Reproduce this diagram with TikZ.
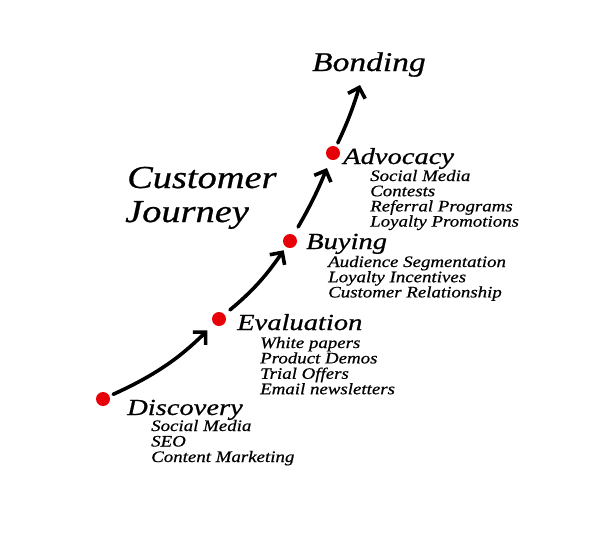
\documentclass[tikz,border=0pt]{standalone}
\usepackage{fontspec}
\newfontfamily\handA{Liberation Serif}[FakeStretch=1.2, FakeBold=0.7]
\newfontfamily\handB{Liberation Serif}[FakeStretch=1.24, FakeBold=0.7]
\newfontfamily\handC{Liberation Serif}[FakeStretch=1.18, FakeBold=0.6]
\usetikzlibrary{arrows.meta}
\definecolor{dotred}{RGB}{232,0,8}
\tikzset{
  dot/.style={circle, fill=dotred, minimum size=14pt, inner sep=0pt},
  title/.style={font=\handA\itshape\fontsize{32}{32}\selectfont, anchor=base west, inner sep=0pt},
  bond/.style={font=\handB\itshape\fontsize{27}{27}\selectfont, anchor=base west, inner sep=0pt},
  stage/.style={font=\handB\itshape\fontsize{23}{23}\selectfont, anchor=base west, inner sep=0pt},
  item/.style={font=\handC\itshape\fontsize{16}{16}\selectfont, anchor=base west, inner sep=0pt},
  arr/.style={line width=3.6pt, -{Straight Barb[length=9pt,width=18pt,line width=3.6pt]}, line cap=round}
}
\begin{document}
\begin{tikzpicture}[x=1pt,y=-1pt]
\fill[white] (0,0) rectangle (600,558);
\useasboundingbox (0,0) rectangle (600,558);

% dots
\node[dot] (d1) at (103,399) {};
\node[dot] (d2) at (219,319) {};
\node[dot] (d3) at (290,241) {};
\node[dot] (d4) at (333,153) {};
\coordinate (tip) at (360,85);

% headings
\node[bond] (bonding) at (312,71) {Bonding};
\node[title] (cust) at (127,188) {Customer};
\node[title] (journ) at (125,222) {Journey};

\node[stage] (adv) at (343,164) {Advocacy};
\node[stage] (buy) at (306,249) {Buying};
\node[stage] (eval) at (237,330) {Evaluation};
\node[stage] (disc) at (127,415) {Discovery};

% items
\foreach \t [count=\i] in {Social Media, Contests, Referral Programs, Loyalty Promotions}
  \node[item] (adv\i) at ({370},{181+15.2*(\i-1)}) {\t};
\foreach \t [count=\i] in {Audience Segmentation, Loyalty Incentives, Customer Relationship}
  \node[item] (buy\i) at ({328},{267+15.2*(\i-1)}) {\t};
\foreach \t [count=\i] in {White papers, Product Demos, Trial Offers, Email newsletters}
  \node[item] (eval\i) at ({260},{348+15.4*(\i-1)}) {\t};
\foreach \t [count=\i] in {Social Media, SEO, Content Marketing}
  \node[item] (disc\i) at ({151},{431+15.5*(\i-1)}) {\t};

% arrows
\draw[arr, shorten <=4pt, shorten >=9pt] (d1) to[bend right=10] (d2);
\draw[arr, shorten <=7pt, shorten >=4pt] (d2) to[bend right=8] (d3);
\draw[arr, shorten <=9pt, shorten >=9pt] (d3) to[bend right=4] (d4);
\draw[arr, shorten <=4pt] (d4) to[bend right=4] (tip);
\end{tikzpicture}
\end{document}
